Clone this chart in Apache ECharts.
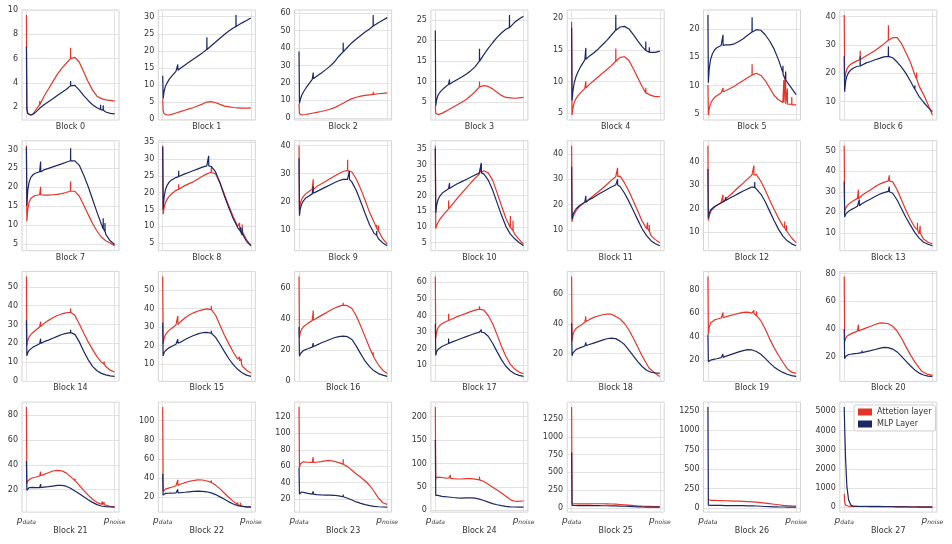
<!DOCTYPE html>
<html><head><meta charset="utf-8">
<script src="https://cdn.jsdelivr.net/npm/echarts@6/dist/echarts.min.js"></script>
<style>html,body{margin:0;padding:0;background:#fff}#c{width:952px;height:544px}</style>
</head><body><div id="c"></div>
<script>
// shared x positions (0 = p_data, 1 = p_noise)
const xs = [0,0.005,0.015,0.03,0.05,0.075,0.1,0.15,0.2,0.25,0.3,0.35,0.4,0.45,0.5,0.55,0.6,0.65,0.7,0.75,0.8,0.85,0.9,0.95,1];
const seriesNames = ['Attetion layer','MLP Layer'];
const xTickLabels = [['p','data'],['p','noise']];
const tickStep = [2,5,10,5,5,5,10, 5,5,10,5,10,10,10, 10,10,20,10,20,20,20, 20,20,20,50,250,250,1000];

const attn0=[9.6,2.0,1.5,1.4,1.35,1.45,1.7,2.2,2.9,3.5,4.1,4.7,5.2,5.6,6.0,6.1,5.7,4.9,4.1,3.4,2.9,2.7,2.6,2.55,2.5];
const mlp0=[7.0,1.8,1.45,1.35,1.35,1.4,1.55,1.9,2.2,2.45,2.7,2.95,3.2,3.45,3.75,3.8,3.4,2.95,2.55,2.2,1.95,1.75,1.6,1.48,1.45];
const attn1=[5.8,2.5,1.6,1.3,1.2,1.25,1.4,1.8,2.2,2.6,3.0,3.4,3.9,4.4,5.0,5.1,4.8,4.3,3.8,3.6,3.4,3.3,3.2,3.2,3.3];
const mlp1=[12.7,6.0,8.0,9.6,10.6,11.7,12.5,14.0,14.9,15.8,16.7,17.6,18.5,19.4,20.4,21.5,22.6,23.7,24.8,25.8,26.7,27.5,28.2,28.9,29.6];
const attn2=[8.0,2.5,1.6,1.6,1.7,1.9,2.1,2.6,3.1,3.6,4.2,4.9,5.8,7.0,8.4,9.8,11.0,11.8,12.4,12.9,13.2,13.5,13.8,14.0,14.3];
const mlp2=[38,8.2,10.5,12.8,14.8,16.8,18.6,22.0,23.8,25.6,27.5,29.5,32.0,35.2,37.8,40.5,43.1,45.2,47.2,49.2,51.0,52.8,54.5,56.0,57.5];
const attn3=[4.0,2.2,1.8,1.9,2.0,2.2,2.5,3.1,3.7,4.3,4.9,5.6,6.5,7.5,8.7,9.0,8.8,8.2,7.4,6.6,6.1,6.0,5.9,6.0,6.1];
const mlp3=[22.5,4.0,5.5,6.6,7.3,7.9,8.4,9.3,9.9,10.5,11.1,11.8,12.6,13.6,15.0,16.6,18.1,19.5,20.8,21.9,22.8,23.6,24.5,25.3,26.0];
const attn4=[19.4,4.7,5.8,6.7,7.3,7.8,8.2,8.9,9.5,10.1,10.7,11.3,11.9,12.5,13.2,13.8,13.9,13.3,12.0,10.6,9.2,8.2,7.8,7.6,7.6];
const mlp4=[18.5,7.0,8.5,9.8,10.8,11.6,12.3,13.4,14.0,14.5,15.1,15.8,16.5,17.3,18.1,18.6,18.7,18.3,17.4,16.4,15.5,14.8,14.6,14.6,14.8];
const attn5=[10.1,4.8,6.0,6.8,7.4,7.9,8.2,8.7,9.1,9.5,9.9,10.4,10.9,11.4,11.9,12.2,11.8,10.9,9.6,8.3,7.5,7.0,6.8,6.7,6.6];
const mlp5=[22.5,10.5,13.0,14.6,15.6,16.3,16.7,17.1,17.2,17.2,17.4,17.8,18.3,18.9,19.5,19.9,19.8,19.0,17.9,16.5,14.6,12.3,10.8,9.5,8.4];
const attn6=[40.6,17.2,19.8,21.5,22.5,23.2,23.7,24.5,25.3,26.2,27.1,28.1,29.2,30.4,31.7,32.6,32.6,30.5,27.3,24.0,19.5,15.5,12.5,9.0,5.3];
const mlp6=[26.0,13.5,17.0,19.0,20.3,21.2,21.8,22.5,23.1,23.7,24.2,24.8,25.3,25.8,26.0,25.5,24.0,22.2,20.0,17.3,14.4,11.8,9.8,8.0,6.5];
const attn7=[31.0,11.0,14.0,16.0,17.0,17.5,17.8,18.0,17.9,17.9,18.0,18.1,18.3,18.6,19.0,18.9,17.6,15.3,12.8,10.4,8.4,6.8,5.8,5.2,4.5];
const mlp7=[30.5,15.0,19.0,21.3,22.6,23.3,23.7,24.1,24.6,25.0,25.4,25.8,26.2,26.6,27.0,27.0,25.8,23.2,20.2,16.8,13.4,10.2,7.5,5.8,4.8];
const attn8=[34.0,13.6,15.5,17.0,18.0,19.0,19.6,20.7,21.5,22.1,22.7,23.3,24.1,24.9,25.6,26.1,25.6,23.0,19.5,16.0,12.8,10.0,7.8,6.0,4.3];
const mlp8=[33.7,15.0,18.5,20.8,22.2,23.2,23.8,24.5,25.1,25.6,26.1,26.6,27.1,27.6,28.0,27.8,26.2,22.8,19.0,15.5,12.2,9.6,7.4,5.5,4.2];
const attn9=[40.0,17.0,19.5,20.9,21.9,22.8,23.4,24.5,25.4,26.3,27.2,28.2,29.1,30.0,30.8,31.2,30.6,28.0,24.5,20.5,16.2,12.8,9.5,6.8,4.9];
const mlp9=[35.5,15.0,17.5,19.2,20.3,21.3,21.8,22.8,23.6,24.4,25.2,26.0,26.8,27.5,28.0,28.0,27.0,24.0,20.0,15.8,11.8,8.8,6.8,5.3,4.3];
const attn10=[36,9.5,10.5,11.4,12.4,13.3,14.2,15.8,17.5,19.2,20.8,22.4,24.0,25.6,27.0,28.0,27.3,25.0,21.0,16.8,12.8,9.8,7.7,6.0,4.5];
const mlp10=[35,14.5,17.0,18.7,19.8,20.7,21.3,22.2,23.0,23.8,24.5,25.2,25.9,26.6,27.3,27.0,25.0,21.8,17.8,13.8,10.2,7.8,6.2,5.0,4.0];
const attn11=[43.3,13.3,15.0,16.3,17.5,18.7,19.6,21.0,22.3,23.6,25.0,26.5,28.0,29.6,31.0,31.3,28.6,25.3,21.5,17.5,13.5,10.5,7.8,6.2,5.0];
const mlp11=[35,14.3,16.0,17.2,18.3,19.2,19.9,21.0,22.0,22.9,24.0,25.0,26.0,27.0,27.8,27.2,24.5,21.3,17.7,14.0,10.5,7.8,5.8,4.6,3.8];
const attn12=[47,15.0,17.0,18.6,19.8,20.7,21.4,22.7,24.2,25.8,27.5,29.3,31.0,32.8,34.5,34.6,31.8,28.0,23.8,19.8,16.0,12.7,9.8,7.5,5.5];
const mlp12=[37,16.0,18.0,19.5,20.3,21.0,21.5,22.5,23.6,24.6,25.6,26.6,27.6,28.5,29.3,28.8,26.3,23.0,19.0,15.0,11.3,8.3,6.3,5.0,4.2];
const attn13=[52.4,20.0,21.8,23.0,24.0,24.8,25.5,26.8,28.2,29.6,31.0,32.5,33.7,34.6,35.3,34.8,31.0,26.0,21.0,16.5,12.8,9.5,7.0,5.5,4.6];
const mlp13=[35,17.7,19.0,19.9,20.6,21.3,21.8,23.0,24.2,25.4,26.5,27.7,28.8,29.6,30.2,29.3,26.0,21.8,17.5,13.8,10.3,7.5,5.5,4.5,3.8];
const attn14=[55.5,19.0,21.5,23.3,24.6,25.8,26.8,28.7,30.6,32.2,33.6,34.8,35.6,36.2,36.5,34.8,30.3,25.5,20.8,16.8,13.0,10.0,7.7,5.8,4.8];
const mlp14=[32.3,13.4,15.0,16.3,17.3,18.0,18.6,19.8,20.9,21.7,22.7,23.7,24.7,25.3,25.7,24.8,20.8,15.8,11.4,7.8,5.5,4.1,3.3,2.8,2.5];
const attn15=[57.3,21.0,23.8,25.8,27.2,28.4,29.3,31.1,32.8,34.9,36.5,37.7,38.7,39.3,39.8,39.4,36.4,31.0,25.6,21.0,16.6,12.8,9.2,6.8,5.3];
const mlp15=[32.4,14.5,16.2,17.3,18.2,19.0,19.6,20.8,21.9,23.2,24.4,25.5,26.4,27.0,27.2,26.7,24.5,20.8,16.8,13.0,9.8,7.3,5.5,4.2,3.5];
const attn16=[67.5,28.0,31.5,33.5,35.0,36.2,37.2,39.0,40.6,42.2,43.8,45.5,47.0,48.2,49.0,48.6,46.8,42.0,35.5,28.5,21.5,15.2,10.5,7.0,4.9];
const mlp16=[34.8,16.0,17.6,18.7,19.7,20.3,20.8,21.9,23.2,24.5,25.7,26.8,27.9,28.7,29.0,28.6,26.8,22.5,17.5,12.8,9.3,6.6,4.8,3.8,3.0];
const attn17=[63.5,26.0,30.0,32.5,34.0,35.0,35.8,37.0,38.2,39.3,40.3,41.3,42.3,43.2,43.8,43.2,40.0,35.0,28.5,21.5,15.5,10.8,7.8,6.0,5.0];
const mlp17=[35.0,16.0,18.3,19.6,20.6,21.4,22.0,23.2,24.3,25.3,26.3,27.3,28.3,29.2,30.0,29.8,27.5,23.3,18.3,13.5,9.5,6.8,5.0,4.0,3.4];
const attn18=[72,28.5,32.5,35.2,36.8,38.0,38.9,41.0,42.8,44.3,45.3,46.1,46.5,46.5,45.0,43.2,40.2,35.8,30.3,24.3,18.3,13.0,9.0,6.5,4.5];
const mlp18=[40.4,18.4,20.4,21.7,22.6,23.3,23.9,25.0,26.0,27.0,28.0,29.0,29.9,30.3,30.0,28.3,26.0,22.3,18.3,14.5,11.2,8.7,7.3,6.8,6.7];
const attn19=[91.4,42.0,48.0,51.5,53.0,54.2,54.8,55.8,56.8,57.8,58.8,59.8,60.6,60.8,60.0,57.8,53.5,46.5,38.0,30.5,24.0,18.0,12.5,9.5,8.5];
const mlp19=[41.7,18.5,19.2,19.8,20.2,20.6,21.0,21.9,23.0,24.3,25.6,26.9,28.0,28.8,28.5,27.2,24.8,21.3,17.5,14.0,11.3,9.3,7.7,6.6,5.9];
const attn20=[78,30.5,33.0,34.8,35.8,36.5,37.2,38.5,39.6,40.8,42.0,43.3,44.3,44.6,43.8,42.0,38.5,33.3,27.3,21.5,16.3,12.0,8.8,7.2,6.5];
const mlp20=[40,18.5,20.2,21.2,21.6,21.8,22.0,22.4,23.0,23.7,24.4,25.2,26.0,26.7,26.6,25.5,23.5,20.3,16.8,13.5,10.5,8.2,6.8,6.0,5.8];
const attn21=[86.4,25.0,27.0,28.3,29.0,29.6,30.0,31.0,32.3,33.6,35.0,35.6,35.2,33.5,30.5,27.3,23.5,19.5,15.6,12.3,9.8,8.3,7.3,6.6,6.2];
const mlp21=[43,19.5,21.0,21.6,21.8,21.8,21.7,21.7,22.0,22.4,22.9,23.4,23.5,22.8,21.2,19.0,16.8,14.3,12.0,9.8,8.0,6.9,6.4,6.1,6.0];
const attn22=[114,26.0,27.3,28.3,29.0,29.6,30.2,31.8,33.4,35.0,36.3,37.3,38.0,37.8,36.8,35.3,32.5,28.5,24.0,19.5,15.5,12.3,10.5,9.5,9.5];
const mlp22=[44,22.0,23.3,23.8,24.0,24.0,24.0,24.3,24.6,25.0,25.5,25.9,26.1,26.0,25.5,24.3,22.6,20.2,17.6,15.0,12.8,11.1,10.2,9.8,9.7];
const attn23=[132,58.0,63.0,65.0,65.3,65.0,64.8,64.6,64.8,65.5,66.5,67.0,66.0,64.3,62.5,59.5,55.0,50.5,46.5,42.0,36.8,29.5,21.5,15.5,13.5];
const mlp23=[58,26.0,28.0,28.6,28.2,27.6,27.0,26.0,25.4,25.0,24.8,24.8,24.6,23.8,22.8,21.0,18.8,16.5,14.8,13.2,12.0,11.1,10.6,10.3,10.2];
const attn24=[220,68,70,71,71,70,69.3,68.5,67.5,66.8,66.8,67.8,67.5,66.5,65.0,61.5,55.5,49.5,43.5,37.0,30.0,23.0,19.5,19.0,20.0];
const mlp24=[150,32,32,32,31,30,29.5,28.5,27.5,26.8,26.3,26.8,26.8,26.0,24.0,21.0,17.5,14.5,12.0,10.0,8.5,7.6,7.2,7.0,7.0];
const attn25=[1420,60,58,57,56,56,55,55,56,57,57,57,56,54,51,47,42,37,32,27,23,20,18,17,16];
const mlp25=[780,35,34,33,33,32,32,31,31,30,30,29,29,28,27,25,22,19,16,14,12,11,10,10,10];
const attn26=[110,100,98,97,96,95,94,93,91,89,87,85,83,80,76,72,66,60,53,46,39,32,27,24,22];
const mlp26=[1300,35,33,32,31,31,30,30,29,29,28,28,27,26,25,23,20,17,15,13,11,10,9,9,9];
const attn27=[700,300,120,70,55,50,48,47,46,45,45,44,43,42,40,38,35,32,29,26,24,22,21,20,20];
const mlp27=[5220,4200,2600,1100,380,120,60,45,42,40,38,36,35,33,31,28,25,22,19,16,14,12,11,10,10];

// narrow spikes: [x, base value, peak value]
const attnSpk = [
 [[0.15,2.2,2.5],[0.5,6.0,6.9]],
 [[0.5,5.0,5.5]],
 [[0.84,13.4,15]],
 [[0.5,8.7,10.0]],
 [[0.16,9.0,10.0],[0.5,13.2,15.2],[0.84,8.2,9.0]],
 [[0.17,8.9,9.6],[0.5,11.9,13.8],[0.86,7.0,11.0],[0.88,6.8,12.3],[0.9,6.7,9.5],[0.95,6.6,8.0]],
 [[0.18,24.9,28.0],[0.5,31.7,37.0],[0.82,18.0,20.3]],
 [[0.16,18.0,20.1],[0.5,19.0,21.5]],
 [[0.18,21.0,22.5],[0.55,26.0,27.5],[0.87,9.5,11.0],[0.9,8.5,10.5]],
 [[0.16,24.3,28.0],[0.55,31.1,35.0],[0.88,10.5,11.8],[0.9,9.5,11.5]],
 [[0.15,15.8,18.5],[0.52,27.5,30.0],[0.85,9.8,13.5],[0.88,8.8,12.0]],
 [[0.52,31.2,34.5],[0.86,10.5,13.0],[0.88,9.5,12.0]],
 [[0.17,22.9,26.0],[0.52,34.5,38.5],[0.87,11.8,14.5],[0.89,10.5,13.0]],
 [[0.16,26.6,31.0],[0.51,35.3,38.0],[0.83,11.5,15.0],[0.86,10.0,13.5]],
 [[0.16,28.9,31.5],[0.5,36.5,38.5],[0.86,9.8,11.0],[0.88,9.0,10.5]],
 [[0.17,31.4,36.0],[0.55,39.4,41.5],[0.87,11.8,14.0],[0.89,10.8,13.0]],
 [[0.16,39.2,45.5],[0.5,49.0,50.5],[0.84,16.5,18.5]],
 [[0.15,37.0,41.0],[0.5,43.8,45.5],[0.86,10.0,11.5]],
 [[0.16,41.5,45.0],[0.42,46.3,47.8],[0.88,10.0,11.0]],
 [[0.17,56.0,60.5],[0.52,59.8,62.5],[0.55,57.8,61.5]],
 [[0.16,38.7,43.2],[0.43,44.4,45.8],[0.88,9.5,10.5],[0.9,8.8,10.0]],
 [[0.16,31.2,34.5],[0.55,27.3,29.0],[0.86,8.2,10.5],[0.88,7.9,10.0]],
 [[0.17,32.2,38.0],[0.55,35.3,37.5],[0.85,12.0,14.5],[0.88,11.2,14.0]],
 [[0.16,64.6,71.0],[0.37,66.8,68.5],[0.5,62.5,68.5]],
 [[0.17,68.3,75.0],[0.5,65.0,72.0],[0.93,19.2,23.0]],
 [[0.88,19,30]],
 [[0.9,27,45]],
 []
];
const mlpSpk = [
 [[0.5,3.75,4.15],[0.84,1.8,2.2],[0.87,1.75,2.15]],
 [[0.17,14.3,16.0],[0.5,20.4,24.0],[0.83,27.1,30.5]],
 [[0.16,22.4,26],[0.5,37.8,43],[0.84,52.7,59]],
 [[0.16,9.3,10.5],[0.5,15.0,18.0],[0.84,23.2,26.3]],
 [[0.16,13.5,15.3],[0.5,18.1,20.5],[0.84,14.9,16.3],[0.88,14.6,15.4]],
 [[0.17,17.1,19.0],[0.5,19.5,22.1],[0.85,12.0,13.5],[0.88,11.0,12.5]],
 [[0.18,22.6,26.0],[0.5,26.0,29.5],[0.8,14.4,15.8]],
 [[0.16,24.0,26.8],[0.5,27.0,30.3],[0.87,9.0,11.8],[0.89,8.3,10.5]],
 [[0.18,24.8,26.5],[0.52,28.0,31.0],[0.88,8.5,9.8],[0.9,7.8,9.5]],
 [[0.16,23.0,25.5],[0.57,28.0,31.0],[0.88,8.0,9.5]],
 [[0.16,22.3,24.0],[0.52,27.3,30.5]],
 [[0.16,21.0,23.5],[0.52,27.8,30.0]],
 [[0.2,23.6,25.0],[0.53,29.2,31.5]],
 [[0.17,23.2,26.2],[0.51,30.0,32.5]],
 [[0.16,19.9,22.5],[0.5,25.7,27.2]],
 [[0.17,21.3,23.5],[0.55,26.7,28.0]],
 [[0.16,22.1,24.5],[0.52,28.9,30.2]],
 [[0.15,23.2,26.2],[0.52,30.0,31.5]],
 [[0.16,25.3,27.5]],
 [[0.17,22.2,25.0]],
 [[0.2,23.0,24.5],[0.45,26.7,28.0]],
 [[0.16,21.7,24.5]],
 [[0.17,24.4,28.0],[0.52,25.3,27.0]],
 [[0.16,26.0,29.5],[0.5,22.8,25.5]],
 [[0.17,28.3,31.5]],
 [],
 [],
 []
];

const attn=[attn0,attn1,attn2,attn3,attn4,attn5,attn6,attn7,attn8,attn9,attn10,attn11,attn12,attn13,attn14,attn15,attn16,attn17,attn18,attn19,attn20,attn21,attn22,attn23,attn24,attn25,attn26,attn27];
const mlp=[mlp0,mlp1,mlp2,mlp3,mlp4,mlp5,mlp6,mlp7,mlp8,mlp9,mlp10,mlp11,mlp12,mlp13,mlp14,mlp15,mlp16,mlp17,mlp18,mlp19,mlp20,mlp21,mlp22,mlp23,mlp24,mlp25,mlp26,mlp27];

const RED='#e5352a', NAVY='#1c2766';
const FONT='DejaVu Sans', TXT='#333333', GRID='#e2e2e2';

function build(vals, spk){
  const pts = xs.map((x,i)=>[x, vals[i]]);
  spk.forEach(s=>{ pts.push([s[0],s[1]],[s[0]+0.0012,s[2]],[s[0]+0.0024,s[1]]); });
  pts.sort((a,b)=>a[0]-b[0]);
  return pts;
}

const grids=[], xAxes=[], yAxes=[], series=[];
for(let i=0;i<28;i++){
  const r=Math.floor(i/7), c=i%7;
  const L=22+136.3*c, T=10+130.7*r;
  const all = attn[i].concat(mlp[i], attnSpk[i].map(s=>s[2]), mlpSpk[i].map(s=>s[2]));
  const lo=Math.min(...all), hi=Math.max(...all), rg=hi-lo;
  const ymin=lo-0.05*rg, ymax=hi+0.05*rg;
  const st=tickStep[i]; const ticks=[];
  for(let v=Math.ceil(ymin/st)*st; v<=ymax+1e-9; v+=st) ticks.push(+v.toFixed(6));
  grids.push({left:L, top:T, width:97, height:110, show:true, borderColor:'#d4d4d4', borderWidth:1, backgroundColor:'#fff'});
  xAxes.push({gridIndex:i, type:'value', min:-0.05, max:1.05,
    axisLine:{show:false}, axisTick:{show:false, customValues:[0,1]},
    splitLine:{show:true, lineStyle:{color:GRID, width:1}},
    axisLabel:{show:r===3, customValues:[0,1], margin:4,
      formatter:v=>{const t=xTickLabels[v>0.5?1:0]; return '{p|'+t[0]+'}{s|'+t[1]+'}';},
      rich:{p:{fontSize:9, fontStyle:'italic', fontFamily:FONT, color:TXT, verticalAlign:'bottom'},
            s:{fontSize:6, fontStyle:'italic', fontFamily:FONT, color:TXT, verticalAlign:'bottom', padding:[3,0,0,0]}}},
    name:'Block '+i, nameLocation:'middle', nameGap: r===3?15:3,
    nameTextStyle:{fontSize:8, color:TXT, fontFamily:FONT, verticalAlign:'top'}});
  yAxes.push({gridIndex:i, type:'value', min:ymin, max:ymax,
    axisLine:{show:false}, axisTick:{show:false, customValues:ticks},
    splitLine:{show:true, lineStyle:{color:GRID, width:1}},
    axisLabel:{customValues:ticks, fontSize:8, color:TXT, fontFamily:FONT, margin:4, formatter:v=>String(v)}});
  series.push({type:'line', name:seriesNames[0], xAxisIndex:i, yAxisIndex:i, data:build(attn[i],attnSpk[i]),
    showSymbol:false, symbol:'none', lineStyle:{color:RED, width:1.2}, itemStyle:{color:RED}, z:2, animation:false});
  series.push({type:'line', name:seriesNames[1], xAxisIndex:i, yAxisIndex:i, data:build(mlp[i],mlpSpk[i]),
    showSymbol:false, symbol:'none', lineStyle:{color:NAVY, width:1.2}, itemStyle:{color:NAVY}, z:3, animation:false});
}

const chart=echarts.init(document.getElementById('c'),null,{renderer:'canvas'});
chart.setOption({
  animation:false,
  textStyle:{fontFamily:FONT},
  grid:grids, xAxis:xAxes, yAxis:yAxes, series:series,
  legend:{data:seriesNames, orient:'vertical', left:854, top:405, icon:'rect', itemWidth:14, itemHeight:7, itemGap:4,
    padding:[3,4,3,4], borderColor:'#cfcfcf', borderWidth:1, borderRadius:2, backgroundColor:'rgba(255,255,255,0.85)',
    textStyle:{fontSize:8, color:TXT, fontFamily:FONT}, selectedMode:false}
});
</script></body></html>
